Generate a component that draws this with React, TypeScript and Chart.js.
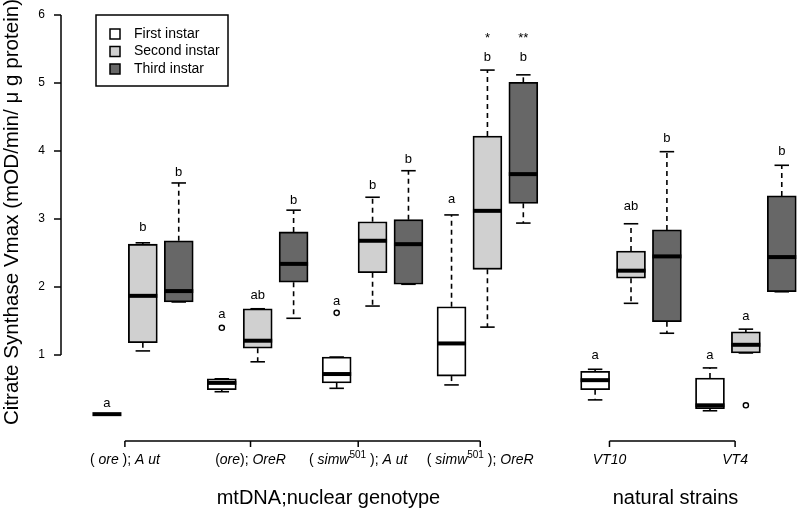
import React, { useEffect, useRef } from 'react';
import { Chart, registerables } from 'chart.js';

Chart.register(...registerables);

const FONT = '"Liberation Sans", Arial, Helvetica, sans-serif';

// Categories (genotypes / strains)
const groupNames = ['(ore); Aut', '(ore); OreR', '(simw501); Aut', '(simw501); OreR', 'VT10', 'VT4'];
const instarNames = ['First instar', 'Second instar', 'Third instar'];
const instarColors = ['#ffffff', '#d0d0d0', '#676767'];

// x positions of the boxes (axis units)
const firstPositions = [1, 4.2, 7.4, 10.6, 14.6, 17.8];
const secondPositions = [2, 5.2, 8.4, 11.6, 15.6, 18.8];
const thirdPositions = [3, 6.2, 9.4, 12.6, 16.6, 19.8];

// First instar
const firstLow = [0.13, 0.46, 0.51, 0.56, 0.34, 0.18];
const firstQ1 = [0.13, 0.49, 0.59, 0.69, 0.49, 0.21];
const firstMedian = [0.13, 0.59, 0.72, 1.17, 0.63, 0.26];
const firstQ3 = [0.13, 0.65, 0.97, 1.71, 0.76, 0.66];
const firstHigh = [0.13, 0.65, 0.97, 3.06, 0.79, 0.81];
const firstOutliers = [[], [1.4], [1.62], [], [], []];
const firstLetters = ['a', 'a', 'a', 'a', 'a', 'a'];
const firstLetterY = [0.29, 1.59, 1.79, 3.29, 0.99, 0.99];
const firstStars = ['', '', '', '', '', ''];

// Second instar
const secondLow = [1.06, 0.9, 1.72, 1.41, 1.76, 1.03];
const secondQ1 = [1.18, 1.1, 2.21, 2.26, 2.13, 1.03];
const secondMedian = [1.87, 1.21, 2.68, 3.12, 2.24, 1.15];
const secondQ3 = [2.63, 1.68, 2.96, 4.22, 2.53, 1.34];
const secondHigh = [2.65, 1.68, 3.32, 5.19, 2.93, 1.38];
const secondOutliers = [[], [], [], [], [], [0.26]];
const secondLetters = ['b', 'ab', 'b', 'b', 'ab', 'a'];
const secondLetterY = [2.87, 1.88, 3.49, 5.38, 3.18, 1.57];
const secondStars = ['', '', '', '*', '', ''];

// Third instar
const thirdLow = [1.78, 1.54, 2.04, 2.94, 1.32, 1.93];
const thirdQ1 = [1.78, 2.07, 2.04, 3.23, 1.49, 1.93];
const thirdMedian = [1.94, 2.34, 2.63, 3.66, 2.45, 2.44];
const thirdQ3 = [2.68, 2.81, 2.99, 5.01, 2.84, 3.34];
const thirdHigh = [3.53, 3.13, 3.71, 5.12, 3.99, 3.79];
const thirdOutliers = [[], [], [], [], [], []];
const thirdLetters = ['b', 'b', 'b', 'b', 'b', 'b'];
const thirdLetterY = [3.68, 3.28, 3.88, 5.38, 4.19, 3.99];
const thirdStars = ['', '', '', '**', '', ''];

const starY = 5.65;

// y-axis ticks
const yTicks = [1, 2, 3, 4, 5, 6];

// bracket axes under the plot
const genotypeTicks = [1.5, 5, 8, 11.4];
const strainTicks = [15, 18.5];
const genotypeTitle = 'mtDNA;nuclear genotype';
const strainTitle = 'natural strains';
const genotypeTitlePos = 7.17;
const strainTitlePos = 16.84;
const yTitle = 'Citrate Synthase Vmax (mOD/min/ \u03BC g protein)';

type Seg = { t: string; it?: boolean; sup?: boolean };
const groupLabelSegments: Seg[][] = [
  [{ t: '( ' }, { t: 'ore', it: true }, { t: ' ); ' }, { t: 'A ut', it: true }],
  [{ t: '(' }, { t: 'ore', it: true }, { t: '); ' }, { t: 'OreR', it: true }],
  [{ t: '( ' }, { t: 'simw', it: true }, { t: '501', sup: true }, { t: ' ); ' }, { t: 'A ut', it: true }],
  [{ t: '( ' }, { t: 'simw', it: true }, { t: '501', sup: true }, { t: ' ); ' }, { t: 'OreR', it: true }],
  [{ t: 'VT10', it: true }],
  [{ t: 'VT4', it: true }],
];

const series = [
  { name: instarNames[0], color: instarColors[0], pos: firstPositions, low: firstLow, q1: firstQ1, med: firstMedian, q3: firstQ3, high: firstHigh, out: firstOutliers, letters: firstLetters, letterY: firstLetterY, stars: firstStars },
  { name: instarNames[1], color: instarColors[1], pos: secondPositions, low: secondLow, q1: secondQ1, med: secondMedian, q3: secondQ3, high: secondHigh, out: secondOutliers, letters: secondLetters, letterY: secondLetterY, stars: secondStars },
  { name: instarNames[2], color: instarColors[2], pos: thirdPositions, low: thirdLow, q1: thirdQ1, med: thirdMedian, q3: thirdQ3, high: thirdHigh, out: thirdOutliers, letters: thirdLetters, letterY: thirdLetterY, stars: thirdStars },
];

const BOX_W = 29;

function line(ctx: CanvasRenderingContext2D, x1: number, y1: number, x2: number, y2: number) {
  ctx.beginPath();
  ctx.moveTo(x1, y1);
  ctx.lineTo(x2, y2);
  ctx.stroke();
}

const boxPlugin = {
  id: 'boxExtras',
  afterDatasetsDraw(chart: any) {
    const { ctx, scales } = chart;
    const xs = scales.x;
    const ys = scales.y;
    ctx.save();
    ctx.strokeStyle = '#000';
    ctx.fillStyle = '#000';
    series.forEach((s) => {
      s.pos.forEach((p, i) => {
        const cx = xs.getPixelForValue(p);
        const hw = BOX_W / 2;
        const cw = BOX_W / 4;
        const yHigh = ys.getPixelForValue(s.high[i]);
        const yLow = ys.getPixelForValue(s.low[i]);
        const yQ1 = ys.getPixelForValue(s.q1[i]);
        const yQ3 = ys.getPixelForValue(s.q3[i]);
        const yMed = ys.getPixelForValue(s.med[i]);
        ctx.lineCap = 'butt';
        ctx.lineWidth = 1.6;
        ctx.setLineDash([5, 4]);
        if (s.high[i] > s.q3[i]) line(ctx, cx, yQ3, cx, yHigh);
        if (s.low[i] < s.q1[i]) line(ctx, cx, yQ1, cx, yLow);
        ctx.setLineDash([]);
        if (s.q3[i] > s.q1[i]) {
          line(ctx, cx - cw, yHigh, cx + cw, yHigh);
          line(ctx, cx - cw, yLow, cx + cw, yLow);
        }
        ctx.lineWidth = 4;
        line(ctx, cx - hw, yMed, cx + hw, yMed);
        ctx.lineWidth = 1.4;
        s.out[i].forEach((v) => {
          ctx.beginPath();
          ctx.arc(cx, ys.getPixelForValue(v), 2.6, 0, Math.PI * 2);
          ctx.stroke();
        });
        ctx.font = `13px ${FONT}`;
        ctx.textAlign = 'center';
        ctx.textBaseline = 'middle';
        ctx.fillText(s.letters[i], cx, ys.getPixelForValue(s.letterY[i]));
        if (s.stars[i]) ctx.fillText(s.stars[i], cx, ys.getPixelForValue(starY));
      });
    });
    ctx.restore();
  },
  afterDraw(chart: any) {
    const { ctx, scales, chartArea } = chart;
    const xs = scales.x;
    const ys = scales.y;
    ctx.save();
    ctx.strokeStyle = '#000';
    ctx.fillStyle = '#000';
    ctx.lineWidth = 1.5;
    ctx.lineCap = 'butt';

    // y axis (R style: from first to last tick)
    const axX = chartArea.left;
    line(ctx, axX, ys.getPixelForValue(yTicks[0]), axX, ys.getPixelForValue(yTicks[yTicks.length - 1]));
    yTicks.forEach((v) => line(ctx, axX - 7, ys.getPixelForValue(v), axX, ys.getPixelForValue(v)));

    // y title
    ctx.save();
    ctx.translate(12, (chartArea.top + chartArea.bottom) / 2 - 7);
    ctx.rotate(-Math.PI / 2);
    ctx.font = `20.6px ${FONT}`;
    ctx.textAlign = 'center';
    ctx.textBaseline = 'middle';
    ctx.fillText(yTitle, 0, 0);
    ctx.restore();

    // bracket axes
    const by = chartArea.bottom + 18;
    [genotypeTicks, strainTicks].forEach((tk) => {
      const x1 = xs.getPixelForValue(tk[0]);
      const x2 = xs.getPixelForValue(tk[tk.length - 1]);
      line(ctx, x1, by, x2, by);
      tk.forEach((t) => {
        const tx = xs.getPixelForValue(t);
        line(ctx, tx, by, tx, by + 6);
      });
    });

    // group labels
    const allTicks = [...genotypeTicks, ...strainTicks];
    const ly = chartArea.bottom + 37;
    groupLabelSegments.forEach((segs, gi) => {
      const fontFor = (s: Seg) => (s.sup ? `10px ${FONT}` : s.it ? `italic 14px ${FONT}` : `14px ${FONT}`);
      let total = 0;
      segs.forEach((s) => {
        ctx.font = fontFor(s);
        total += ctx.measureText(s.t).width;
      });
      let cx = xs.getPixelForValue(allTicks[gi]) - total / 2;
      ctx.textAlign = 'left';
      ctx.textBaseline = 'middle';
      segs.forEach((s) => {
        ctx.font = fontFor(s);
        ctx.fillText(s.t, cx, s.sup ? ly - 5 : ly);
        cx += ctx.measureText(s.t).width;
      });
    });

    // group titles
    ctx.font = `20px ${FONT}`;
    ctx.textAlign = 'center';
    ctx.textBaseline = 'middle';
    ctx.fillText(genotypeTitle, xs.getPixelForValue(genotypeTitlePos), chartArea.bottom + 75);
    ctx.fillText(strainTitle, xs.getPixelForValue(strainTitlePos), chartArea.bottom + 75);

    // legend
    const lx = chartArea.left + 35;
    const lt = chartArea.top;
    ctx.lineWidth = 1.5;
    ctx.strokeRect(lx, lt, 132, 71);
    ctx.font = `14px ${FONT}`;
    ctx.textAlign = 'left';
    ctx.textBaseline = 'middle';
    series.forEach((s, i) => {
      const ry = lt + 19 + i * 17.5;
      ctx.fillStyle = s.color;
      ctx.fillRect(lx + 14, ry - 5, 10, 10);
      ctx.lineWidth = 1.5;
      ctx.strokeRect(lx + 14, ry - 5, 10, 10);
      ctx.fillStyle = '#000';
      ctx.fillText(s.name, lx + 38, ry);
    });
    ctx.restore();
  },
};

export default function App() {
  const canvasRef = useRef<HTMLCanvasElement | null>(null);

  useEffect(() => {
    if (!canvasRef.current) return;
    const chart = new Chart(canvasRef.current, {
      type: 'bar',
      data: {
        datasets: series.map((s) => ({
          label: s.name,
          data: s.pos.map((p, i) => ({ x: p, y: [s.q1[i], s.q3[i]] })) as any,
          backgroundColor: s.color,
          borderColor: '#000',
          borderWidth: 1.8,
          borderSkipped: false,
          barThickness: BOX_W,
          grouped: false,
        })),
      },
      options: {
        responsive: true,
        maintainAspectRatio: false,
        animation: false,
        layout: { padding: { top: 15, bottom: 88, left: 0, right: 0 } },
        plugins: {
          legend: { display: false },
          tooltip: { enabled: false },
          title: { display: false },
        },
        scales: {
          x: {
            type: 'linear',
            min: -0.28,
            max: 20.28,
            offset: false,
            display: false,
          },
          y: {
            type: 'linear',
            min: 0,
            max: 6,
            grid: { display: false, drawTicks: false },
            border: { display: false },
            afterBuildTicks: (scale: any) => {
              scale.ticks = yTicks.map((v) => ({ value: v }));
            },
            afterFit: (scale: any) => {
              scale.width = 61;
              scale.paddingTop = 0;
              scale.paddingBottom = 0;
            },
            ticks: {
              padding: 16,
              color: '#000',
              font: { family: FONT, size: 12 },
            },
          },
        },
      },
      plugins: [boxPlugin],
    } as any);
    return () => chart.destroy();
  }, []);

  return (
    <div style={{ position: 'absolute', left: 0, top: 0, width: 799, height: 511, background: '#fff' }}>
      <canvas ref={canvasRef} />
    </div>
  );
}
